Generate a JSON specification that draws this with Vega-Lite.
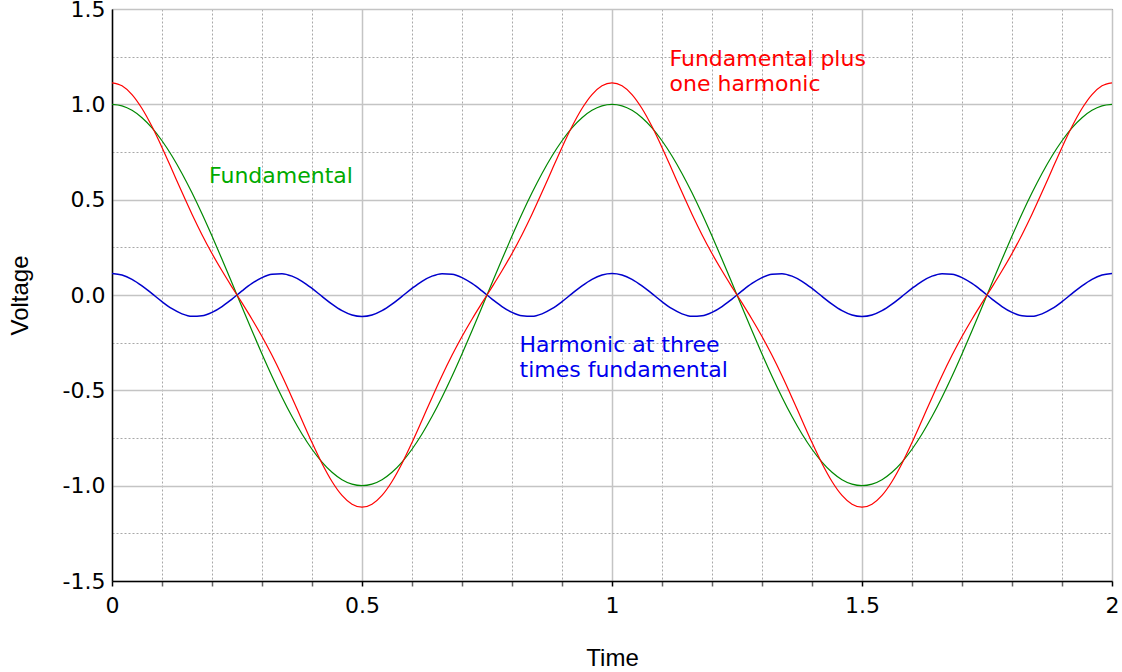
{
  "$schema": "https://vega.github.io/schema/vega-lite/v6.json",
  "width": 1000,
  "height": 572,
  "autosize": {"type": "none"},
  "padding": {"left": 112, "top": 9, "right": 10, "bottom": 91},
  "background": "white",
  "config": {
    "view": {"stroke": "#333", "strokeWidth": 1},
    "axis": {
      "labelFont": "DejaVu Sans",
      "labelFontSize": 22,
      "labelColor": "black",
      "titleFont": "Liberation Sans",
      "titleFontSize": 24,
      "titleFontWeight": "normal",
      "titleColor": "black",
      "domainColor": "black",
      "domainWidth": 1.5,
      "labelOverlap": false,
      "labelFlush": false
    }
  },
  "datasets": {
    "waves": [
      {"t": 0, "fund": 1, "harm": 0.113, "sum": 1.113},
      {"t": 0.02, "fund": 0.9921, "harm": 0.1051, "sum": 1.0972},
      {"t": 0.04, "fund": 0.9686, "harm": 0.0824, "sum": 1.051},
      {"t": 0.06, "fund": 0.9298, "harm": 0.0481, "sum": 0.9779},
      {"t": 0.08, "fund": 0.8763, "harm": 0.0071, "sum": 0.8834},
      {"t": 0.1, "fund": 0.809, "harm": -0.0349, "sum": 0.7741},
      {"t": 0.12, "fund": 0.729, "harm": -0.072, "sum": 0.657},
      {"t": 0.14, "fund": 0.6374, "harm": -0.099, "sum": 0.5384},
      {"t": 0.16, "fund": 0.5358, "harm": -0.1121, "sum": 0.4237},
      {"t": 0.18, "fund": 0.4258, "harm": -0.1094, "sum": 0.3164},
      {"t": 0.2, "fund": 0.309, "harm": -0.0914, "sum": 0.2176},
      {"t": 0.22, "fund": 0.1874, "harm": -0.0605, "sum": 0.1269},
      {"t": 0.24, "fund": 0.0628, "harm": -0.0212, "sum": 0.0416},
      {"t": 0.26, "fund": -0.0628, "harm": 0.0212, "sum": -0.0416},
      {"t": 0.28, "fund": -0.1874, "harm": 0.0605, "sum": -0.1269},
      {"t": 0.3, "fund": -0.309, "harm": 0.0914, "sum": -0.2176},
      {"t": 0.32, "fund": -0.4258, "harm": 0.1094, "sum": -0.3164},
      {"t": 0.34, "fund": -0.5358, "harm": 0.1121, "sum": -0.4237},
      {"t": 0.36, "fund": -0.6374, "harm": 0.099, "sum": -0.5384},
      {"t": 0.38, "fund": -0.729, "harm": 0.072, "sum": -0.657},
      {"t": 0.4, "fund": -0.809, "harm": 0.0349, "sum": -0.7741},
      {"t": 0.42, "fund": -0.8763, "harm": -0.0071, "sum": -0.8834},
      {"t": 0.44, "fund": -0.9298, "harm": -0.0481, "sum": -0.9779},
      {"t": 0.46, "fund": -0.9686, "harm": -0.0824, "sum": -1.051},
      {"t": 0.48, "fund": -0.9921, "harm": -0.1051, "sum": -1.0972},
      {"t": 0.5, "fund": -1, "harm": -0.113, "sum": -1.113},
      {"t": 0.52, "fund": -0.9921, "harm": -0.1051, "sum": -1.0972},
      {"t": 0.54, "fund": -0.9686, "harm": -0.0824, "sum": -1.051},
      {"t": 0.56, "fund": -0.9298, "harm": -0.0481, "sum": -0.9779},
      {"t": 0.58, "fund": -0.8763, "harm": -0.0071, "sum": -0.8834},
      {"t": 0.6, "fund": -0.809, "harm": 0.0349, "sum": -0.7741},
      {"t": 0.62, "fund": -0.729, "harm": 0.072, "sum": -0.657},
      {"t": 0.64, "fund": -0.6374, "harm": 0.099, "sum": -0.5384},
      {"t": 0.66, "fund": -0.5358, "harm": 0.1121, "sum": -0.4237},
      {"t": 0.68, "fund": -0.4258, "harm": 0.1094, "sum": -0.3164},
      {"t": 0.7, "fund": -0.309, "harm": 0.0914, "sum": -0.2176},
      {"t": 0.72, "fund": -0.1874, "harm": 0.0605, "sum": -0.1269},
      {"t": 0.74, "fund": -0.0628, "harm": 0.0212, "sum": -0.0416},
      {"t": 0.76, "fund": 0.0628, "harm": -0.0212, "sum": 0.0416},
      {"t": 0.78, "fund": 0.1874, "harm": -0.0605, "sum": 0.1269},
      {"t": 0.8, "fund": 0.309, "harm": -0.0914, "sum": 0.2176},
      {"t": 0.82, "fund": 0.4258, "harm": -0.1094, "sum": 0.3164},
      {"t": 0.84, "fund": 0.5358, "harm": -0.1121, "sum": 0.4237},
      {"t": 0.86, "fund": 0.6374, "harm": -0.099, "sum": 0.5384},
      {"t": 0.88, "fund": 0.729, "harm": -0.072, "sum": 0.657},
      {"t": 0.9, "fund": 0.809, "harm": -0.0349, "sum": 0.7741},
      {"t": 0.92, "fund": 0.8763, "harm": 0.0071, "sum": 0.8834},
      {"t": 0.94, "fund": 0.9298, "harm": 0.0481, "sum": 0.9779},
      {"t": 0.96, "fund": 0.9686, "harm": 0.0824, "sum": 1.051},
      {"t": 0.98, "fund": 0.9921, "harm": 0.1051, "sum": 1.0972},
      {"t": 1.0, "fund": 1, "harm": 0.113, "sum": 1.113},
      {"t": 1.02, "fund": 0.9921, "harm": 0.1051, "sum": 1.0972},
      {"t": 1.04, "fund": 0.9686, "harm": 0.0824, "sum": 1.051},
      {"t": 1.06, "fund": 0.9298, "harm": 0.0481, "sum": 0.9779},
      {"t": 1.08, "fund": 0.8763, "harm": 0.0071, "sum": 0.8834},
      {"t": 1.1, "fund": 0.809, "harm": -0.0349, "sum": 0.7741},
      {"t": 1.12, "fund": 0.729, "harm": -0.072, "sum": 0.657},
      {"t": 1.14, "fund": 0.6374, "harm": -0.099, "sum": 0.5384},
      {"t": 1.16, "fund": 0.5358, "harm": -0.1121, "sum": 0.4237},
      {"t": 1.18, "fund": 0.4258, "harm": -0.1094, "sum": 0.3164},
      {"t": 1.2, "fund": 0.309, "harm": -0.0914, "sum": 0.2176},
      {"t": 1.22, "fund": 0.1874, "harm": -0.0605, "sum": 0.1269},
      {"t": 1.24, "fund": 0.0628, "harm": -0.0212, "sum": 0.0416},
      {"t": 1.26, "fund": -0.0628, "harm": 0.0212, "sum": -0.0416},
      {"t": 1.28, "fund": -0.1874, "harm": 0.0605, "sum": -0.1269},
      {"t": 1.3, "fund": -0.309, "harm": 0.0914, "sum": -0.2176},
      {"t": 1.32, "fund": -0.4258, "harm": 0.1094, "sum": -0.3164},
      {"t": 1.34, "fund": -0.5358, "harm": 0.1121, "sum": -0.4237},
      {"t": 1.36, "fund": -0.6374, "harm": 0.099, "sum": -0.5384},
      {"t": 1.38, "fund": -0.729, "harm": 0.072, "sum": -0.657},
      {"t": 1.4, "fund": -0.809, "harm": 0.0349, "sum": -0.7741},
      {"t": 1.42, "fund": -0.8763, "harm": -0.0071, "sum": -0.8834},
      {"t": 1.44, "fund": -0.9298, "harm": -0.0481, "sum": -0.9779},
      {"t": 1.46, "fund": -0.9686, "harm": -0.0824, "sum": -1.051},
      {"t": 1.48, "fund": -0.9921, "harm": -0.1051, "sum": -1.0972},
      {"t": 1.5, "fund": -1, "harm": -0.113, "sum": -1.113},
      {"t": 1.52, "fund": -0.9921, "harm": -0.1051, "sum": -1.0972},
      {"t": 1.54, "fund": -0.9686, "harm": -0.0824, "sum": -1.051},
      {"t": 1.56, "fund": -0.9298, "harm": -0.0481, "sum": -0.9779},
      {"t": 1.58, "fund": -0.8763, "harm": -0.0071, "sum": -0.8834},
      {"t": 1.6, "fund": -0.809, "harm": 0.0349, "sum": -0.7741},
      {"t": 1.62, "fund": -0.729, "harm": 0.072, "sum": -0.657},
      {"t": 1.64, "fund": -0.6374, "harm": 0.099, "sum": -0.5384},
      {"t": 1.66, "fund": -0.5358, "harm": 0.1121, "sum": -0.4237},
      {"t": 1.68, "fund": -0.4258, "harm": 0.1094, "sum": -0.3164},
      {"t": 1.7, "fund": -0.309, "harm": 0.0914, "sum": -0.2176},
      {"t": 1.72, "fund": -0.1874, "harm": 0.0605, "sum": -0.1269},
      {"t": 1.74, "fund": -0.0628, "harm": 0.0212, "sum": -0.0416},
      {"t": 1.76, "fund": 0.0628, "harm": -0.0212, "sum": 0.0416},
      {"t": 1.78, "fund": 0.1874, "harm": -0.0605, "sum": 0.1269},
      {"t": 1.8, "fund": 0.309, "harm": -0.0914, "sum": 0.2176},
      {"t": 1.82, "fund": 0.4258, "harm": -0.1094, "sum": 0.3164},
      {"t": 1.84, "fund": 0.5358, "harm": -0.1121, "sum": 0.4237},
      {"t": 1.86, "fund": 0.6374, "harm": -0.099, "sum": 0.5384},
      {"t": 1.88, "fund": 0.729, "harm": -0.072, "sum": 0.657},
      {"t": 1.9, "fund": 0.809, "harm": -0.0349, "sum": 0.7741},
      {"t": 1.92, "fund": 0.8763, "harm": 0.0071, "sum": 0.8834},
      {"t": 1.94, "fund": 0.9298, "harm": 0.0481, "sum": 0.9779},
      {"t": 1.96, "fund": 0.9686, "harm": 0.0824, "sum": 1.051},
      {"t": 1.98, "fund": 0.9921, "harm": 0.1051, "sum": 1.0972},
      {"t": 2.0, "fund": 1, "harm": 0.113, "sum": 1.113}
    ],
    "notes": [
      {"t": 1.115, "v": 1.201, "series": "Sum", "label": "Fundamental plus\none harmonic"},
      {"t": 0.194, "v": 0.589, "series": "Fundamental", "label": "Fundamental"},
      {"t": 0.815, "v": -0.297, "series": "Harmonic", "label": "Harmonic at three\ntimes fundamental"}
    ]
  },
  "layer": [
    {
      "data": {"name": "waves"},
      "mark": {"type": "line", "color": "#0000cc", "strokeWidth": 1.5, "interpolate": "monotone"},
      "encoding": {
        "x": {
          "field": "t", "type": "quantitative",
          "scale": {"domain": [0, 2], "nice": false, "zero": false},
          "axis": {
            "title": "Time",
            "titlePadding": 30,
            "values": [0, 0.1, 0.2, 0.3, 0.4, 0.5, 0.6, 0.7, 0.8, 0.9, 1, 1.1, 1.2, 1.3, 1.4, 1.5, 1.6, 1.7, 1.8, 1.9, 2],
            "labelExpr": "abs(datum.value*2-round(datum.value*2))<0.001 ? format(datum.value, '~g') : ''",
            "tickSize": 5,
            "labelPadding": 9,
            "tickColor": {"condition": {"test": "abs(datum.value*2-round(datum.value*2))<0.001", "value": "black"}, "value": "#666666"},
            "tickWidth": 1.5,
            "grid": true,
            "gridColor": {"condition": {"test": "abs(datum.value*2-round(datum.value*2))<0.001", "value": "#c4c4c4"}, "value": "#a8a8a8"},
            "gridDash": {"condition": {"test": "abs(datum.value*2-round(datum.value*2))<0.001", "value": []}, "value": [2, 2]},
            "gridWidth": {"condition": {"test": "abs(datum.value*2-round(datum.value*2))<0.001", "value": 1.5}, "value": 1}
          }
        },
        "y": {
          "field": "harm", "type": "quantitative",
          "scale": {"domain": [-1.5, 1.5], "nice": false, "zero": false},
          "axis": {
            "title": "Voltage",
            "titlePadding": 30,
            "values": [-1.5, -1.25, -1, -0.75, -0.5, -0.25, 0, 0.25, 0.5, 0.75, 1, 1.25, 1.5],
            "labelExpr": "abs(datum.value*2-round(datum.value*2))<0.001 ? (datum.value < 0 ? '-' : '') + format(abs(datum.value), '.1f') : ''",
            "ticks": false,
            "labelPadding": 7,
            "grid": true,
            "gridColor": {"condition": {"test": "abs(datum.value*2-round(datum.value*2))<0.001", "value": "#c4c4c4"}, "value": "#a8a8a8"},
            "gridDash": {"condition": {"test": "abs(datum.value*2-round(datum.value*2))<0.001", "value": []}, "value": [2, 2]},
            "gridWidth": {"condition": {"test": "abs(datum.value*2-round(datum.value*2))<0.001", "value": 1.5}, "value": 1}
          }
        }
      }
    },
    {
      "data": {"name": "waves"},
      "mark": {"type": "line", "color": "#008800", "strokeWidth": 1.2, "interpolate": "monotone"},
      "encoding": {
        "x": {"field": "t", "type": "quantitative", "title": "Time"},
        "y": {"field": "fund", "type": "quantitative", "title": "Voltage"}
      }
    },
    {
      "data": {"name": "waves"},
      "mark": {"type": "line", "color": "#ff0000", "strokeWidth": 1.2, "interpolate": "monotone"},
      "encoding": {
        "x": {"field": "t", "type": "quantitative", "title": "Time"},
        "y": {"field": "sum", "type": "quantitative", "title": "Voltage"}
      }
    },
    {
      "data": {"name": "notes"},
      "mark": {"type": "text", "font": "DejaVu Sans", "fontSize": 22, "align": "left", "baseline": "alphabetic", "lineBreak": "\n", "lineHeight": 25},
      "encoding": {
        "x": {"field": "t", "type": "quantitative", "title": "Time"},
        "y": {"field": "v", "type": "quantitative", "title": "Voltage"},
        "text": {"field": "label"},
        "color": {"field": "series", "type": "nominal", "legend": null,
          "scale": {"domain": ["Fundamental", "Harmonic", "Sum"], "range": ["#00aa00", "#0000ee", "#ff0000"]}}
      }
    }
  ]
}
